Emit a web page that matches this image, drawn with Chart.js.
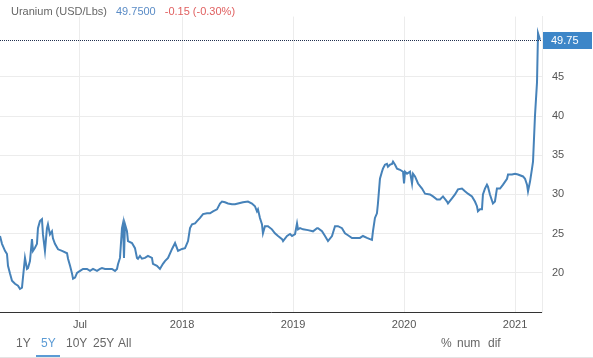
<!DOCTYPE html>
<html>
<head>
<meta charset="utf-8">
<script src="https://cdn.jsdelivr.net/npm/chart.js@4.4.1/dist/chart.umd.min.js"></script>
<style>
  html, body { margin:0; padding:0; background:#fff; }
  #wrap { position:relative; width:593px; height:358px; overflow:hidden; font-family:"Liberation Sans", Arial, sans-serif; }
  #c { position:absolute; left:0; top:0; }
  #hdr { position:absolute; left:11px; top:5px; font-size:11px; color:#666; white-space:nowrap; }
  #hdr .v { color:#5b8cc6; margin-left:9px; }
  #hdr .d { color:#e06060; margin-left:9px; }
  .ft { position:absolute; top:336px; font-size:12px; color:#666; white-space:nowrap; }
  .ft.sel { color:#5b9bd5; }
  #ul { position:absolute; left:36px; top:355px; width:24px; height:2px; background:#5b9bd5; }
  #bl { position:absolute; left:0; top:357px; width:593px; height:1px; background:#e4e4e4; }
</style>
</head>
<body>
<div id="wrap">
  <canvas id="c" width="593" height="358"></canvas>
  <div id="hdr"><span>Uranium (USD/Lbs)</span><span class="v">49.7500</span><span class="d">-0.15 (-0.30%)</span></div>
  <div class="ft" style="left:16px">1Y</div>
  <div class="ft sel" style="left:41px">5Y</div>
  <div class="ft" style="left:66px">10Y</div>
  <div class="ft" style="left:93px">25Y</div>
  <div class="ft" style="left:118px">All</div>
  <div class="ft" style="left:441px">%</div>
  <div class="ft" style="left:457px">num</div>
  <div class="ft" style="left:488px">dif</div>
  <div id="ul"></div>
  <div id="bl"></div>
</div>
<script>
// decimal-year dates
const dates = [
2016.360,2016.378,2016.405,2016.423,2016.432,2016.450,2016.468,2016.495,2016.522,2016.540,
2016.558,2016.567,2016.585,2016.603,2016.612,2016.630,2016.648,2016.657,2016.675,2016.693,
2016.702,2016.720,2016.738,2016.747,2016.765,2016.783,2016.792,2016.810,2016.828,2016.837,
2016.855,2016.883,2016.919,2016.964,2016.973,2016.991,2017.009,2017.018,2017.036,2017.054,
2017.081,2017.108,2017.144,2017.171,2017.198,2017.234,2017.261,2017.279,2017.306,2017.333,
2017.369,2017.396,2017.414,2017.423,2017.441,2017.459,2017.468,2017.477,2017.486,2017.504,
2017.513,2017.549,2017.576,2017.594,2017.603,2017.621,2017.639,2017.666,2017.693,2017.729,
2017.738,2017.774,2017.801,2017.828,2017.846,2017.874,2017.910,2017.937,2017.964,2018.000,
2018.027,2018.054,2018.072,2018.090,2018.117,2018.135,2018.162,2018.189,2018.225,2018.252,
2018.279,2018.315,2018.342,2018.360,2018.387,2018.414,2018.450,2018.477,2018.504,2018.549,
2018.594,2018.630,2018.657,2018.675,2018.684,2018.702,2018.720,2018.729,2018.747,2018.774,
2018.810,2018.837,2018.865,2018.901,2018.910,2018.946,2018.973,2018.991,2019.018,2019.036,
2019.045,2019.063,2019.090,2019.135,2019.180,2019.216,2019.225,2019.261,2019.288,2019.315,
2019.351,2019.378,2019.405,2019.441,2019.468,2019.495,2019.531,2019.576,2019.603,2019.630,
2019.666,2019.693,2019.711,2019.720,2019.738,2019.756,2019.765,2019.783,2019.801,2019.810,
2019.828,2019.846,2019.855,2019.874,2019.892,2019.901,2019.919,2019.937,2019.964,2019.991,
2020.000,2020.009,2020.027,2020.054,2020.072,2020.081,2020.099,2020.126,2020.162,2020.189,
2020.234,2020.261,2020.297,2020.324,2020.351,2020.387,2020.396,2020.432,2020.459,2020.486,
2020.522,2020.549,2020.576,2020.612,2020.639,2020.657,2020.666,2020.684,2020.702,2020.711,
2020.729,2020.747,2020.756,2020.774,2020.801,2020.819,2020.837,2020.865,2020.892,2020.928,
2020.937,2020.973,2021.000,2021.027,2021.072,2021.090,2021.108,2021.117,2021.135,2021.153,
2021.162,2021.180,2021.198,2021.207,2021.225
];
const prices = [
24.7,23.7,22.8,22.4,20.9,19.9,19.0,18.6,18.35,17.95,
18.1,19.4,21.9,20.5,20.6,21.5,24.3,22.8,23.2,23.7,
25.7,26.6,26.85,24.9,22.8,25.7,26.2,24.9,25.3,24.4,
23.7,23.0,22.8,22.5,21.8,20.9,19.9,19.25,19.4,20.0,
20.25,20.5,20.5,20.25,20.5,20.25,20.5,20.6,20.5,20.5,
20.5,20.25,20.5,21.1,21.9,25.7,26.3,21.9,26.2,25.3,
24.05,23.8,23.15,21.9,21.8,22.15,21.8,21.9,22.15,21.9,
21.15,20.9,20.5,21.15,21.5,21.9,23.05,23.8,22.8,23.05,
23.15,24.05,25.7,26.2,26.3,26.6,27.0,27.5,27.6,27.6,
27.85,28.1,28.85,29.1,29.0,28.85,28.75,28.75,28.85,29.0,
29.1,28.85,28.5,27.85,28.1,27.0,26.2,25.05,25.95,25.95,
25.55,25.05,24.7,24.3,24.05,24.7,24.95,24.7,24.95,26.3,
25.55,25.7,25.55,25.45,25.3,25.7,25.7,25.3,24.7,24.05,
24.7,25.95,25.95,25.7,25.05,24.8,24.45,24.45,24.45,24.7,
24.45,24.3,24.2,25.3,27.0,27.6,28.85,32.0,32.9,33.3,
33.8,33.9,33.55,33.8,33.9,34.2,33.8,33.3,33.15,32.9,
31.4,32.9,32.65,32.9,31.4,32.65,32.3,31.4,30.75,30.1,
30.0,29.75,29.35,29.35,29.75,29.1,28.85,29.5,30.0,30.65,
30.75,30.4,30.1,29.75,29.1,28.5,27.85,28.1,28.1,30.0,
30.75,31.25,31.0,30.0,28.85,29.1,30.75,30.75,31.25,32.0,
32.55,32.55,32.65,32.55,32.3,32.0,31.25,30.4,31.65,33.3,
34.2,40.1,44.3,50.6,49.75
];
const xTickValues = [2017.08, 2018, 2019, 2020, 2021];
const xTickLabels = ['Jul', '2018', '2019', '2020', '2021'];
const yTickValues = [20, 25, 30, 35, 40, 45];
const lastValueLabel = '49.75';

const points = dates.map((d, i) => ({ x: d, y: prices[i] }));

const lastPricePlugin = {
  id: 'lastPrice',
  afterDatasetsDraw(chart) {
    const { ctx, chartArea, scales } = chart;
    const v = prices[prices.length - 1];
    const y = Math.round(scales.y.getPixelForValue(v)) + 0.5;
    ctx.save();
    ctx.strokeStyle = '#22304f';
    ctx.lineWidth = 1;
    ctx.setLineDash([1, 1]);
    ctx.beginPath();
    ctx.moveTo(chartArea.left, y);
    ctx.lineTo(chartArea.right, y);
    ctx.stroke();
    ctx.setLineDash([]);
    ctx.fillStyle = '#3d86c8';
    ctx.fillRect(chartArea.right + 1, y - 8.5, 592 - chartArea.right - 1, 17);
    ctx.fillStyle = '#ffffff';
    ctx.font = '11px "Liberation Sans", Arial, sans-serif';
    ctx.textBaseline = 'middle';
    ctx.textAlign = 'left';
    ctx.fillText(lastValueLabel, chartArea.right + 9, y + 0.5);
    ctx.restore();
  }
};

new Chart(document.getElementById('c'), {
  type: 'line',
  data: {
    datasets: [{
      data: points,
      borderColor: '#4682b9',
      borderWidth: 2,
      pointRadius: 0,
      tension: 0,
      fill: false
    }]
  },
  options: {
    responsive: false,
    animation: false,
    layout: { padding: { top: 14, left: 0, right: 0, bottom: 0 } },
    plugins: { legend: { display: false }, tooltip: { enabled: false } },
    scales: {
      x: {
        type: 'linear',
        min: 2016.36,
        max: 2021.243,
        afterBuildTicks(s) { s.ticks = xTickValues.map(v => ({ value: v })); },
        afterFit(s) { s.height = 46; },
        ticks: {
          autoSkip: false,
          maxRotation: 0,
          padding: 6,
          color: '#555',
          font: { family: '"Liberation Sans", Arial, sans-serif', size: 11 },
          callback(value) {
            const i = xTickValues.indexOf(value);
            return i >= 0 ? xTickLabels[i] : '';
          }
        },
        grid: { color: '#ececec', drawTicks: false },
        border: { display: true, color: '#333', width: 1 }
      },
      y: {
        position: 'right',
        min: 15,
        max: 52.7,
        afterBuildTicks(s) { s.ticks = yTickValues.map(v => ({ value: v })); },
        afterFit(s) { s.width = 51; },
        ticks: {
          padding: 10,
          color: '#555',
          font: { family: '"Liberation Sans", Arial, sans-serif', size: 11 }
        },
        grid: { color: '#ececec', drawTicks: false },
        border: { display: true, color: '#ececec' }
      }
    }
  },
  plugins: [lastPricePlugin]
});
</script>
</body>
</html>
